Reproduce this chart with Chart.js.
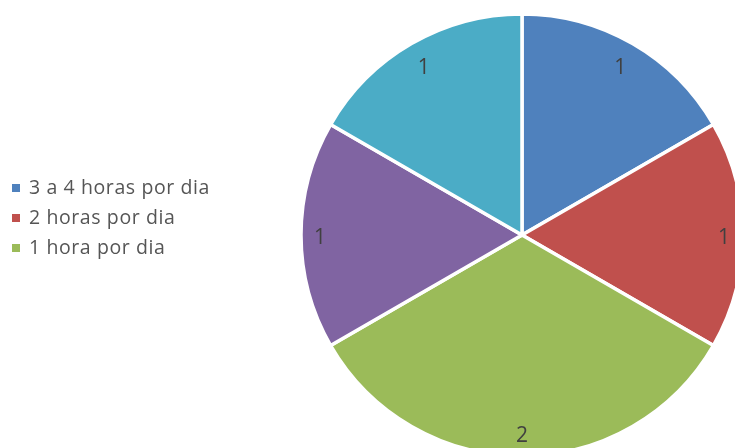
<!DOCTYPE html>
<html>
<head>
<meta charset="utf-8">
<script src="https://cdn.jsdelivr.net/npm/chart.js@4/dist/chart.umd.min.js"></script>
<style>
  html, body { margin: 0; padding: 0; background: #fff; overflow: hidden; }
  #wrap { position: relative; width: 735px; height: 448px; }
  #grafico { position: absolute; left: 0; top: 0; }
  #legenda {
    position: absolute; left: 12px; top: 172px;
    font-family: "Open Sans", sans-serif; font-size: 19.5px; letter-spacing: 0.6px;
    color: #555555;
  }
  #legenda .item { height: 30px; line-height: 30px; white-space: nowrap; }
  #legenda .box { display: inline-block; width: 8px; height: 8px; margin-right: 9px; vertical-align: 2px; }
</style>
</head>
<body>
<div id="wrap">
  <canvas id="grafico" width="735" height="448"></canvas>
  <div id="legenda"></div>
</div>
<script>
(function () {
  // categorias (as duas ultimas nao aparecem na legenda da imagem)
  const categorias = ["3 a 4 horas por dia", "2 horas por dia", "1 hora por dia", "", ""];
  const valores = [1, 1, 2, 1, 1];
  const cores = ["#4F81BD", "#C0504D", "#9BBB59", "#8064A2", "#4BACC6"];

  const legendaEl = document.getElementById("legenda");
  categorias.forEach((nome, i) => {
    if (!nome) return;
    const div = document.createElement("div");
    div.className = "item";
    div.innerHTML = `<span class="box" style="background:${cores[i]}"></span>${nome}`;
    legendaEl.appendChild(div);
  });

  // rotulos de valor dentro da fatia, perto da borda (estilo "extremidade interna")
  const rotulosPlugin = {
    id: "rotulos",
    afterDatasetsDraw(chart) {
      const ctx = chart.ctx;
      const meta = chart.getDatasetMeta(0);
      ctx.save();
      ctx.font = "21px 'Open Sans', sans-serif";
      ctx.fillStyle = "#404040";
      ctx.textAlign = "center";
      ctx.textBaseline = "middle";
      meta.data.forEach((arc, i) => {
        const p = arc.getProps(["x", "y", "startAngle", "endAngle", "outerRadius"], true);
        const mid = (p.startAngle + p.endAngle) / 2;
        const txt = String(valores[i]);
        const w = ctx.measureText(txt).width;
        const h = 20;
        const r = p.outerRadius - 13 - (Math.abs(Math.cos(mid)) * w / 2 + Math.abs(Math.sin(mid)) * h / 2);
        ctx.fillText(txt, p.x + Math.cos(mid) * r, p.y + Math.sin(mid) * r + 3);
      });
      ctx.restore();
    }
  };

  new Chart(document.getElementById("grafico"), {
    type: "pie",
    data: {
      labels: categorias,
      datasets: [{
        data: valores,
        backgroundColor: cores,
        borderColor: "#ffffff",
        borderWidth: 3.5,
        radius: 221,
        clip: false
      }]
    },
    options: {
      responsive: false,
      animation: false,
      devicePixelRatio: 1,
      layout: { padding: { left: 309, right: 0, top: 22, bottom: 0 } },
      plugins: {
        legend: { display: false },
        tooltip: { enabled: false }
      }
    },
    plugins: [rotulosPlugin]
  });
})();
</script>
</body>
</html>
